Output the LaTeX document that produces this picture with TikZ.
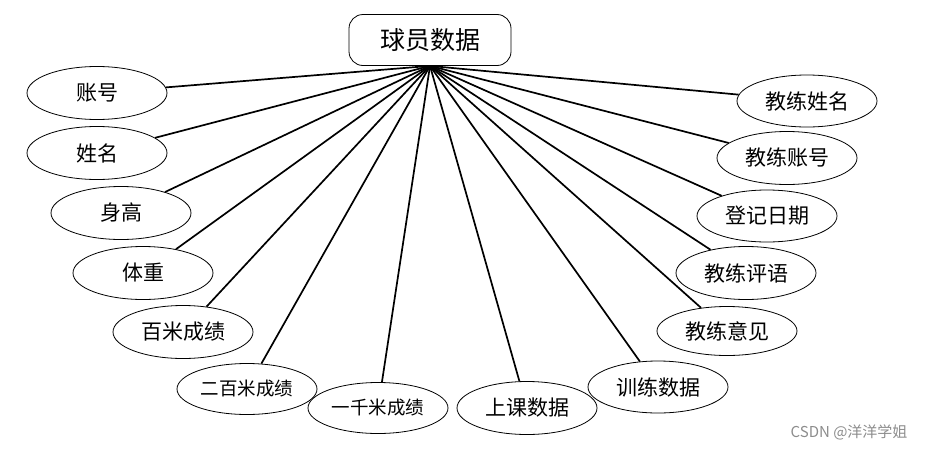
\documentclass[tikz,border=0pt]{standalone}
\usepackage{fontspec}
\usetikzlibrary{shapes.geometric}
\newfontfamily\cjk{Noto Sans CJK SC}
\begin{document}
\begin{tikzpicture}[x=1pt,y=-1pt,
  attr/.style={draw=black, line width=0.8pt, ellipse, minimum width=140pt, minimum height=53pt, inner sep=0pt, font=\cjk\fontsize{21}{22}\selectfont},
  attrs/.style={attr, font=\cjk\fontsize{18.5}{19}\selectfont},
  link/.style={line width=1.7pt}]
\useasboundingbox (0,0) rectangle (926,450);
\node[draw=black, line width=0.8pt, rounded corners=14pt, minimum width=162pt, minimum height=51pt, inner sep=0pt, font=\cjk\fontsize{25}{26}\selectfont] (main) at (430,40) {球员数据};
\coordinate (hub) at (main.south);
\node[attr] (a1) at (97,93) {账号};
\node[attr] (a2) at (97,153) {姓名};
\node[attr] (a3) at (121,213) {身高};
\node[attr] (a4) at (143,273) {体重};
\node[attr] (a5) at (183,332) {百米成绩};
\node[attrs, minimum height=51pt] (a6) at (247,389) {二百米成绩};
\node[attrs, minimum height=51pt] (a7) at (378,408) {一千米成绩};
\node[attr] (a8) at (527,408) {上课数据};
\node[attr, minimum height=52pt] (a9) at (658,387) {训练数据};
\node[attr, minimum height=49pt] (a10) at (727,331) {教练意见};
\node[attr] (a11) at (746,273) {教练评语};
\node[attr, minimum height=52pt] (a12) at (767,216) {登记日期};
\node[attr] (a13) at (787,158) {教练账号};
\node[attr, minimum height=52pt] (a14) at (807,101) {教练姓名};
\foreach \i in {1,...,14} \draw[link] (hub) -- (a\i);
\node[text=black!45, font=\cjk\fontsize{15}{16}\selectfont, anchor=east] (wm) at (911,432) {CSDN @洋洋学姐};
\end{tikzpicture}
\end{document}
